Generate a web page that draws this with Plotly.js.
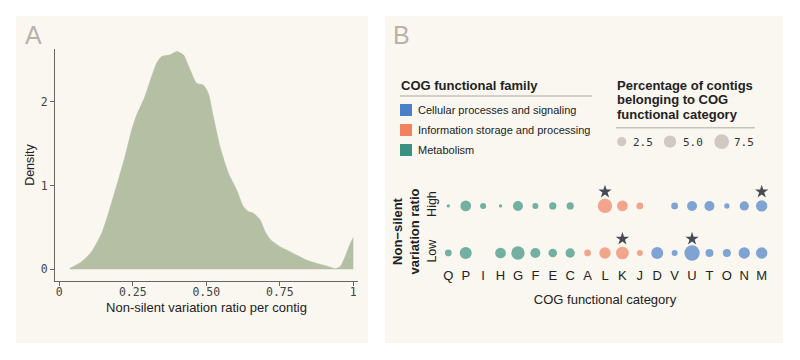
<!DOCTYPE html>
<html><head><meta charset="utf-8">
<script src="https://cdn.plot.ly/plotly-3.0.1.min.js"></script>
<style>html,body{margin:0;padding:0;background:#fff}#chart{width:800px;height:360px}</style>
</head><body><div id="chart"></div>
<script>
// ---- Panel A: density of non-silent variation ratio ----
const densityX = [0.036,0.076,0.110,0.144,0.167,0.201,0.223,0.246,0.263,0.291,0.314,0.331,0.348,0.377,0.399,0.422,0.445,0.467,0.490,0.507,0.524,0.547,0.575,0.603,0.626,0.643,0.660,0.683,0.700,0.717,0.751,0.785,0.807,0.841,0.876,0.910,0.938,0.955,0.972,0.990,1.0];
const densityY = [0.012,0.091,0.21,0.43,0.67,1.07,1.34,1.66,1.84,2.06,2.30,2.46,2.54,2.56,2.60,2.56,2.38,2.22,2.20,2.10,1.82,1.46,1.15,0.95,0.75,0.69,0.67,0.59,0.45,0.36,0.27,0.21,0.17,0.11,0.07,0.04,0.01,0.03,0.15,0.31,0.38];
const densityTickVals = [0,0.25,0.5,0.75,1];
const densityTickText = ['0','0.25','0.50','0.75','1'];
const densityYTicks = [0,1,2];

// ---- Panel B: COG categories ----
const categories = ['Q','P','I','H','G','F','E','C','A','L','K','J','D','V','U','T','O','N','M'];
const categoryFamily = ['Metabolism','Metabolism','Metabolism','Metabolism','Metabolism','Metabolism','Metabolism','Metabolism',
  'Information storage and processing','Information storage and processing','Information storage and processing','Information storage and processing',
  'Cellular processes and signaling','Cellular processes and signaling','Cellular processes and signaling','Cellular processes and signaling',
  'Cellular processes and signaling','Cellular processes and signaling','Cellular processes and signaling'];
const highPct = [0.1,3.6,0.8,0.1,3.0,0.8,1.3,1.3,null,7.1,3.6,1.1,null,1.1,3.0,3.0,0.5,2.5,4.1];
const lowPct  = [1.1,4.7,null,3.6,6.0,3.0,2.1,2.5,1.1,4.1,5.4,0.8,4.7,0.8,8.3,1.7,1.7,4.1,4.1];
const starsHigh = ['L','M'];
const starsLow = ['K','U'];
const rowLabels = ['Low','High'];
const familyNames = ['Cellular processes and signaling','Information storage and processing','Metabolism'];
const familyColors = ['#4a80c8','#f0825f','#3a917f'];
const sizeLegendValues = [2.5,5.0,7.5];
const sizeLegendLabels = ['2.5','5.0','7.5'];
const sizeLegendTitle = ['Percentage of contigs','belonging to COG','functional category'];

const SANS = 'Liberation Sans, Arial, sans-serif';
const MONO = 'DejaVu Sans Mono, monospace';
const sizeOf = v => 1.9 + 4.66*Math.sqrt(v);

const traces = [];
traces.push({
  type:'scatter', mode:'lines', x:densityX, y:densityY, xaxis:'x', yaxis:'y',
  fill:'tozeroy', fillcolor:'#b5bfa4', line:{color:'#b5bfa4', width:0.5, shape:'spline', smoothing:0.6},
  hoverinfo:'skip'
});

familyNames.forEach((fam, fi) => {
  const xs = [], ys = [], ss = [];
  categories.forEach((c, i) => {
    if (categoryFamily[i] !== fam) return;
    if (highPct[i] != null) { xs.push(c); ys.push(1); ss.push(sizeOf(highPct[i])); }
    if (lowPct[i] != null) { xs.push(c); ys.push(0); ss.push(sizeOf(lowPct[i])); }
  });
  traces.push({type:'scatter', mode:'markers', x:xs, y:ys, xaxis:'x2', yaxis:'y2',
    marker:{color:familyColors[fi], size:ss, line:{width:0}}, name:fam});
});
traces.push({type:'scatter', mode:'markers', xaxis:'x2', yaxis:'y2',
  x:starsHigh.concat(starsLow), y:starsHigh.map(()=>1.3).concat(starsLow.map(()=>0.3)),
  marker:{symbol:'star', size:10, color:'#454a55', line:{width:0}}});

// legend marks drawn on a pixel-space overlay axis
traces.push({type:'scatter', mode:'markers', xaxis:'x3', yaxis:'y3',
  x:[406,406,406], y:[110,130,150], marker:{symbol:'square', size:12, color:familyColors, line:{width:0}}});
traces.push({type:'scatter', mode:'markers', xaxis:'x3', yaxis:'y3',
  x:[621.7,670,721.7], y:[141.7,141.7,141.7], marker:{size:sizeLegendValues.map(sizeOf), color:'#bdb4ac', line:{width:0}}});

const annotations = [
  {text:'A', x:23, y:35, xanchor:'left', yanchor:'middle', font:{family:SANS, size:25, color:'#bab1a9'}},
  {text:'B', x:391, y:35, xanchor:'left', yanchor:'middle', font:{family:SANS, size:25, color:'#bab1a9'}},
  {text:'<b>COG functional family</b>', x:399, y:85, xanchor:'left', yanchor:'middle', font:{family:SANS, size:13, color:'#222'}},
];
sizeLegendTitle.forEach((t,i)=>annotations.push({text:'<b>'+t+'</b>', x:615, y:85+14.5*i, xanchor:'left', yanchor:'middle', font:{family:SANS, size:13, color:'#222'}}));
familyNames.forEach((f,i)=>annotations.push({text:f, x:416, y:110+20*i, xanchor:'left', yanchor:'middle', font:{family:SANS, size:11, color:'#222'}}));
sizeLegendLabels.forEach((l,i)=>annotations.push({text:l, x:[631,681,732][i], y:142, xanchor:'left', yanchor:'middle', font:{family:MONO, size:11, color:'#333'}}));
annotations.forEach(a=>{a.xref='x3'; a.yref='y3'; a.showarrow=false;});

const layout = {
  width:800, height:360, margin:{l:0,r:0,t:0,b:0},
  paper_bgcolor:'#ffffff', plot_bgcolor:'rgba(0,0,0,0)', showlegend:false,
  shapes:[
    {type:'rect', xref:'paper', yref:'paper', x0:16/800, x1:368/800, y0:1-343/360, y1:1-16/360, fillcolor:'#faf7f1', line:{width:0}, layer:'below'},
    {type:'rect', xref:'paper', yref:'paper', x0:385/800, x1:783/800, y0:1-343/360, y1:1-16/360, fillcolor:'#faf7f1', line:{width:0}, layer:'below'},
    {type:'line', xref:'x3', yref:'y3', x0:400, x1:592, y0:96, y1:96, line:{color:'#c9c2bb', width:1.5}},
    {type:'line', xref:'x3', yref:'y3', x0:616, x1:755, y0:127.7, y1:127.7, line:{color:'#c9c2bb', width:1.5}}
  ],
  annotations:annotations,
  xaxis:{anchor:'y', domain:[55/800,358/800], range:[-0.0146,1.016], showgrid:false, zeroline:false,
    showline:true, linecolor:'#666', linewidth:1, ticks:'outside', ticklen:4, tickcolor:'#666', ticklabelstandoff:-4,
    tickvals:densityTickVals, ticktext:densityTickText, tickfont:{family:MONO, size:11.5, color:'#444'},
    title:{text:'Non-silent variation ratio per contig', font:{family:SANS, size:13, color:'#222'}, standoff:5}},
  yaxis:{anchor:'x', domain:[1-281/360,1-49/360], range:[-0.1396,2.629], showgrid:false, zeroline:false,
    showline:true, linecolor:'#666', linewidth:1, ticks:'outside', ticklen:4, tickcolor:'#666',
    tickvals:densityYTicks, ticktext:densityYTicks.map(String), tickfont:{family:MONO, size:11.5, color:'#444'},
    title:{text:'Density', font:{family:SANS, size:12.5, color:'#222'}, standoff:3}},
  xaxis2:{anchor:'y2', domain:[439.6/800,770.4/800], type:'category', categoryorder:'array', categoryarray:categories,
    range:[-0.5,18.5], showgrid:false, zeroline:false, showline:false, ticks:'', ticklabelstandoff:-12,
    tickfont:{family:SANS, size:13, color:'#222'},
    title:{text:'COG functional category', font:{family:SANS, size:13, color:'#222'}, standoff:12}},
  yaxis2:{anchor:'x2', domain:[1-278/360,1-185/360], range:[-0.531,1.444], showgrid:false, zeroline:false, showline:false, ticks:'',
    tickvals:[0,1], ticktext:rowLabels, tickangle:-90, tickfont:{family:SANS, size:12.5, color:'#222'},
    title:{text:'<b>Non−silent<br>variation ratio</b>', font:{family:SANS, size:13, color:'#222'}, standoff:2}},
  xaxis3:{anchor:'y3', domain:[0,1], range:[0,800], visible:false, fixedrange:true},
  yaxis3:{anchor:'x3', domain:[0,1], range:[360,0], visible:false, fixedrange:true}
};
Plotly.newPlot('chart', traces, layout, {staticPlot:true, displayModeBar:false});
</script></body></html>
